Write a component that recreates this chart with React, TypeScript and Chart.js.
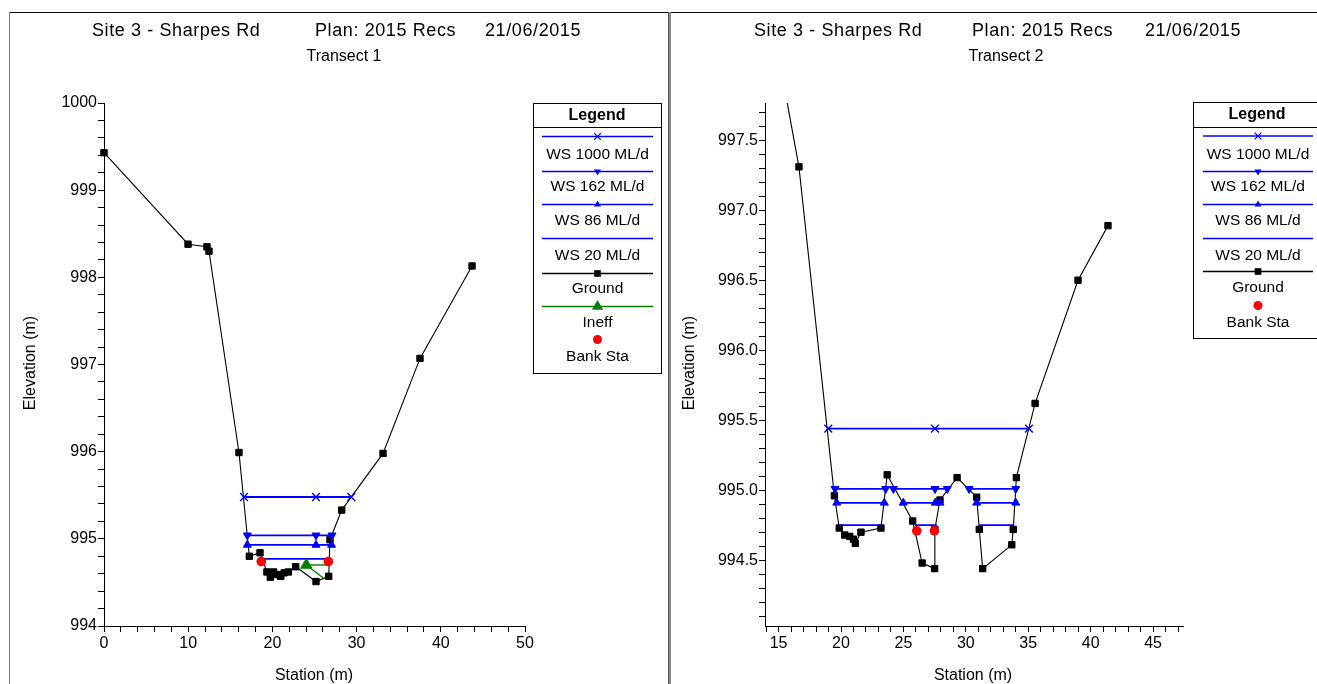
import React, { useEffect, useRef } from 'react';
import { Chart, registerables } from 'chart.js';

Chart.register(...registerables);

const FONT = "'Liberation Sans', Arial, Helvetica, sans-serif";

// ---------- Transect 1 ----------
const T1_GROUND_X = [0, 9.98, 12.23, 12.47, 16.03, 17.26, 18.53, 19.35, 19.75, 20.15, 20.6, 21.0, 21.4, 21.9, 22.77, 25.18, 26.69, 26.84, 28.23, 33.14, 37.53, 43.71];
const T1_GROUND_Y = [999.43, 998.38, 998.35, 998.3, 995.99, 994.8, 994.84, 994.62, 994.56, 994.62, 994.59, 994.57, 994.61, 994.62, 994.68, 994.51, 994.57, 994.99, 995.33, 995.98, 997.07, 998.13];
const T1_BANK_X = [18.68, 26.64];
const T1_BANK_Y = [994.74, 994.74];
const T1_WS1000_X = [16.63, 25.18, 29.37];
const T1_WS1000 = 995.48;
const T1_WS162_X = [17.02, 25.18, 27.08];
const T1_WS162 = 995.04;
const T1_WS86_X = [17.02, 25.18, 27.03];
const T1_WS86 = 994.93;
const T1_WS20_X = [18.68, 27.03];
const T1_WS20 = 994.77;
const T1_INEFF_X = [24.03, 26.84];
const T1_INEFF_Y = [994.7, 994.7];
const T1_HATCH_X = [24.03, 26.05];
const T1_HATCH_Y = [994.7, 994.55];
const T1_X_LABELS = [0, 10, 20, 30, 40, 50];
const T1_Y_LABELS = [994, 995, 996, 997, 998, 999, 1000];

// ---------- Transect 2 ----------
const T2_GROUND_X = [14.8, 16.63, 19.47, 19.86, 20.3, 20.7, 21.0, 21.15, 21.6, 23.2, 23.7, 25.74, 26.5, 27.5, 27.52, 27.93, 29.3, 30.87, 31.08, 31.35, 33.68, 33.8, 34.05, 35.55, 38.99, 41.39];
const T2_GROUND_Y = [998.2, 997.31, 994.96, 994.73, 994.68, 994.67, 994.65, 994.62, 994.7, 994.73, 995.11, 994.78, 994.48, 994.44, 994.72, 994.93, 995.09, 994.95, 994.72, 994.44, 994.61, 994.72, 995.09, 995.62, 996.5, 996.89];
const T2_BANK_X = [26.07, 27.48];
const T2_BANK_Y = [994.71, 994.71];
const T2_WS1000_X: (number | null)[] = [18.98, 27.53, 35.06];
const T2_WS1000 = 995.44;
const T2_WS162_X: (number | null)[] = [19.52, 23.58, null, 24.2, 27.53, 28.52, null, 30.26, 34.0];
const T2_WS162 = 995.01;
const T2_WS86_X: (number | null)[] = [19.66, 23.47, null, 24.99, 27.55, 27.93, null, 30.87, 34.0];
const T2_WS86 = 994.91;
const T2_WS20_X: (number | null)[] = [19.86, 23.2, null, 25.93, 27.67, null, 31.08, 33.8];
const T2_WS20 = 994.75;
const T2_X_LABELS = [15, 20, 25, 30, 35, 40, 45];
const T2_Y_LABELS = [994.5, 995.0, 995.5, 996.0, 996.5, 997.0, 997.5];

const TITLE_PARTS = ['Site 3 - Sharpes Rd', 'Plan: 2015 Recs', '21/06/2015'];

function stepTicks(from: number, to: number, step: number) {
  const out: number[] = [];
  const n = Math.round((to - from) / step);
  for (let i = 0; i <= n; i++) out.push(Math.round((from + i * step) * 1000) / 1000);
  return out;
}

function xyPoints(xs: number[], ys: number[]) {
  return xs.map((x, i) => ({ x, y: ys[i] }));
}

function levelPoints(xs: (number | null)[], level: number) {
  const out: { x: number; y: number | null }[] = [];
  let last = 0;
  for (const x of xs) {
    if (x === null) out.push({ x: last, y: null });
    else {
      out.push({ x, y: level });
      last = x;
    }
  }
  return out;
}

const BLUE = '#0000ff';
const GREEN = '#008000';
const RED = '#ff0000';

function wsDataset(label: string, xs: (number | null)[], level: number, style: any, rotation: number, radius: number, clip: any) {
  return {
    label,
    data: levelPoints(xs, level),
    borderColor: BLUE,
    borderWidth: 1.8,
    pointStyle: style,
    pointRotation: rotation,
    pointRadius: radius,
    pointBackgroundColor: BLUE,
    pointBorderColor: BLUE,
    pointBorderWidth: style === 'crossRot' ? 1.4 : 1,
    spanGaps: false,
    tension: 0,
    clip,
  };
}

function groundDataset(xs: number[], ys: number[], clip: any) {
  return {
    label: 'Ground',
    data: xyPoints(xs, ys),
    borderColor: '#000',
    borderWidth: 1.1,
    pointStyle: 'rect',
    pointRadius: 4.5,
    pointBackgroundColor: '#000',
    pointBorderColor: '#000',
    pointBorderWidth: 1,
    tension: 0,
    clip,
  };
}

function bankDataset(xs: number[], ys: number[], clip: any) {
  return {
    label: 'Bank Sta',
    data: xyPoints(xs, ys),
    showLine: false,
    pointStyle: 'circle',
    pointRadius: 4.8,
    pointBackgroundColor: RED,
    pointBorderColor: RED,
    pointBorderWidth: 0,
    clip,
  };
}

const CLIP1 = { left: 10, top: 10, right: 10, bottom: 10 };
const CLIP2 = { left: 10, top: 0, right: 10, bottom: 10 };

type LegendItem = { label: string; color?: string; marker?: string; rot?: number; r?: number; line: boolean; lineY: number; textY: number };

interface Panel {
  ox: number;
  width: number;
  height: number;
  area: { left: number; top: number; right: number; bottom: number };
  xMin: number; xMax: number; xTicks: number[]; xLabels: number[]; xDec: number;
  yMin: number; yMax: number; yTicks: number[]; yLabels: number[]; yDec: number;
  datasets: any[];
  titleX: number[];
  subtitle: string;
  subtitleX: number;
  yTitleX: number;
  xTitleX: number;
  legend: { x: number; y: number; w: number; h: number; sepY: number; lx1: number; lx2: number; items: LegendItem[] };
}

const PANEL1: Panel = {
  ox: 0,
  width: 668,
  height: 684,
  area: { left: 104, top: 103, right: 525, bottom: 626 },
  xMin: 0, xMax: 50, xTicks: stepTicks(0, 50, 2), xLabels: T1_X_LABELS, xDec: 0,
  yMin: 994, yMax: 1000, yTicks: stepTicks(994, 1000, 0.2), yLabels: T1_Y_LABELS, yDec: 0,
  datasets: [
    bankDataset(T1_BANK_X, T1_BANK_Y, CLIP1),
    {
      label: 'Ineff', data: xyPoints(T1_INEFF_X, T1_INEFF_Y), borderColor: GREEN, borderWidth: 1.4,
      pointStyle: 'triangle', pointRadius: [6.5, 0], pointBackgroundColor: GREEN, pointBorderColor: GREEN, pointBorderWidth: 1, clip: CLIP1,
    },
    { label: 'hatch', data: xyPoints(T1_HATCH_X, T1_HATCH_Y), borderColor: GREEN, borderWidth: 1.4, pointRadius: 0, clip: CLIP1 },
    wsDataset('WS 20 ML/d', T1_WS20_X, T1_WS20, 'circle', 0, 0, CLIP1),
    wsDataset('WS 86 ML/d', T1_WS86_X, T1_WS86, 'triangle', 0, 4.6, CLIP1),
    wsDataset('WS 162 ML/d', T1_WS162_X, T1_WS162, 'triangle', 180, 4.6, CLIP1),
    wsDataset('WS 1000 ML/d', T1_WS1000_X, T1_WS1000, 'crossRot', 0, 5.5, CLIP1),
    groundDataset(T1_GROUND_X, T1_GROUND_Y, CLIP1),
  ],
  titleX: [92, 315, 485],
  subtitle: 'Transect 1',
  subtitleX: 344,
  yTitleX: 31,
  xTitleX: 314,
  legend: {
    x: 533, y: 103, w: 128, h: 270, sepY: 127, lx1: 542, lx2: 653,
    items: [
      { label: 'WS 1000 ML/d', color: BLUE, marker: 'crossRot', r: 4, line: true, lineY: 136.5, textY: 155 },
      { label: 'WS 162 ML/d', color: BLUE, marker: 'triangle', rot: 180, r: 4, line: true, lineY: 171.5, textY: 187 },
      { label: 'WS 86 ML/d', color: BLUE, marker: 'triangle', r: 4, line: true, lineY: 204.5, textY: 221 },
      { label: 'WS 20 ML/d', color: BLUE, line: true, lineY: 238.5, textY: 256 },
      { label: 'Ground', color: '#000', marker: 'rect', r: 4, line: true, lineY: 273.5, textY: 288.5 },
      { label: 'Ineff', color: GREEN, marker: 'triangle', r: 6.5, line: true, lineY: 306.5, textY: 323 },
      { label: 'Bank Sta', color: RED, marker: 'circle', r: 4.5, line: false, lineY: 339.5, textY: 357 },
    ],
  },
};

const PANEL2: Panel = {
  ox: 670,
  width: 647,
  height: 684,
  area: { left: 95, top: 103, right: 513, bottom: 626 },
  xMin: 13.91, xMax: 47.4, xTicks: stepTicks(14, 47, 1), xLabels: T2_X_LABELS, xDec: 0,
  yMin: 994.03, yMax: 997.766, yTicks: stepTicks(994.1, 997.7, 0.1), yLabels: T2_Y_LABELS, yDec: 1,
  datasets: [
    bankDataset(T2_BANK_X, T2_BANK_Y, CLIP2),
    wsDataset('WS 20 ML/d', T2_WS20_X, T2_WS20, 'circle', 0, 0, CLIP2),
    wsDataset('WS 86 ML/d', T2_WS86_X, T2_WS86, 'triangle', 0, 4.6, CLIP2),
    wsDataset('WS 162 ML/d', T2_WS162_X, T2_WS162, 'triangle', 180, 4.6, CLIP2),
    wsDataset('WS 1000 ML/d', T2_WS1000_X, T2_WS1000, 'crossRot', 0, 5.5, CLIP2),
    groundDataset(T2_GROUND_X, T2_GROUND_Y, CLIP2),
  ],
  titleX: [754, 972, 1145],
  subtitle: 'Transect 2',
  subtitleX: 1006,
  yTitleX: 690,
  xTitleX: 973,
  legend: {
    x: 1193, y: 102, w: 130, h: 236, sepY: 127, lx1: 1203, lx2: 1313,
    items: [
      { label: 'WS 1000 ML/d', color: BLUE, marker: 'crossRot', r: 4, line: true, lineY: 136, textY: 155 },
      { label: 'WS 162 ML/d', color: BLUE, marker: 'triangle', rot: 180, r: 4, line: true, lineY: 171.5, textY: 187 },
      { label: 'WS 86 ML/d', color: BLUE, marker: 'triangle', r: 4, line: true, lineY: 204.5, textY: 221 },
      { label: 'WS 20 ML/d', color: BLUE, line: true, lineY: 238.5, textY: 256 },
      { label: 'Ground', color: '#000', marker: 'rect', r: 4, line: true, lineY: 271.5, textY: 288 },
      { label: 'Bank Sta', color: RED, marker: 'circle', r: 4.5, line: false, lineY: 305.5, textY: 323 },
    ],
  },
};

function drawMarker(ctx: CanvasRenderingContext2D, style: string, x: number, y: number, r: number, color: string, rot = 0) {
  ctx.save();
  ctx.fillStyle = color;
  ctx.strokeStyle = color;
  ctx.lineWidth = 1.3;
  ctx.beginPath();
  if (style === 'crossRot') {
    const d = r * Math.SQRT1_2 * 1.2;
    ctx.moveTo(x - d, y - d); ctx.lineTo(x + d, y + d);
    ctx.moveTo(x - d, y + d); ctx.lineTo(x + d, y - d);
    ctx.stroke();
  } else if (style === 'triangle') {
    let a = (rot * Math.PI) / 180;
    ctx.moveTo(x + Math.sin(a) * r, y - Math.cos(a) * r);
    a += (2 * Math.PI) / 3;
    ctx.lineTo(x + Math.sin(a) * r, y - Math.cos(a) * r);
    a += (2 * Math.PI) / 3;
    ctx.lineTo(x + Math.sin(a) * r, y - Math.cos(a) * r);
    ctx.closePath();
    ctx.fill();
  } else if (style === 'rect') {
    const s = r * Math.SQRT1_2 + 0.5;
    ctx.rect(x - s, y - s, 2 * s, 2 * s);
    ctx.fill();
  } else if (style === 'circle') {
    ctx.arc(x, y, r, 0, Math.PI * 2);
    ctx.fill();
  }
  ctx.restore();
}

function drawDeco(ctx: CanvasRenderingContext2D, p: Panel) {
  ctx.save();
  ctx.translate(-p.ox, 0);
  ctx.fillStyle = '#000';
  ctx.textBaseline = 'middle';
  // titles
  ctx.font = `18px ${FONT}`;
  ctx.textAlign = 'left';
  (ctx as any).letterSpacing = '0.6px';
  TITLE_PARTS.forEach((t, i) => ctx.fillText(t, p.titleX[i], 31));
  (ctx as any).letterSpacing = '0px';
  ctx.font = `16px ${FONT}`;
  ctx.textAlign = 'center';
  ctx.fillText(p.subtitle, p.subtitleX, 57);
  // axis titles
  ctx.fillText('Station (m)', p.xTitleX, 676);
  ctx.save();
  ctx.translate(p.yTitleX, 363);
  ctx.rotate(-Math.PI / 2);
  ctx.fillText('Elevation (m)', 0, 0);
  ctx.restore();
  // legend
  const L = p.legend;
  ctx.fillStyle = '#fff';
  ctx.fillRect(L.x, L.y, L.w, L.h);
  ctx.strokeStyle = '#000';
  ctx.lineWidth = 1;
  ctx.strokeRect(L.x + 0.5, L.y + 0.5, L.w, L.h);
  ctx.beginPath();
  ctx.moveTo(L.x, L.sepY + 0.5);
  ctx.lineTo(L.x + L.w, L.sepY + 0.5);
  ctx.stroke();
  const cx = (L.lx1 + L.lx2) / 2;
  ctx.fillStyle = '#000';
  ctx.font = `bold 16px ${FONT}`;
  ctx.fillText('Legend', L.x + L.w / 2 - (p.ox ? 1 : 0), L.y + 12.5);
  ctx.font = `15.5px ${FONT}`;
  for (const it of L.items) {
    if (it.line) {
      ctx.strokeStyle = it.color || '#000';
      ctx.lineWidth = 1.3;
      ctx.beginPath();
      ctx.moveTo(L.lx1, it.lineY);
      ctx.lineTo(L.lx2, it.lineY);
      ctx.stroke();
    }
    if (it.marker) drawMarker(ctx, it.marker, cx, it.lineY, it.r || 4, it.color || '#000', it.rot || 0);
    ctx.fillStyle = '#000';
    ctx.fillText(it.label, cx, it.textY);
  }
  ctx.restore();
}

function buildChart(canvas: HTMLCanvasElement, p: Panel) {
  const lab = (labels: number[], dec: number) => (v: any) => {
    const n = Number(v);
    return labels.some((l) => Math.abs(l - n) < 1e-6) ? n.toFixed(dec) : '';
  };
  const tickFont = { size: 16, family: FONT };
  return new Chart(canvas, {
    type: 'line',
    data: { datasets: p.datasets },
    options: {
      responsive: false,
      animation: false,
      devicePixelRatio: 1,
      events: [],
      layout: { padding: { left: 0, top: p.area.top, right: p.width - p.area.right, bottom: 0 } },
      plugins: { legend: { display: false }, tooltip: { enabled: false } },
      scales: {
        x: {
          type: 'linear',
          min: p.xMin,
          max: p.xMax,
          afterBuildTicks: (s: any) => { s.ticks = p.xTicks.map((v) => ({ value: v })); },
          afterFit: (s: any) => { s.height = p.height - p.area.bottom; },
          ticks: { autoSkip: false, maxRotation: 0, minRotation: 0, padding: 2, color: '#000', font: tickFont, callback: lab(p.xLabels, p.xDec) },
          grid: { drawOnChartArea: false, drawTicks: true, tickLength: 6, color: '#000', lineWidth: 1 },
          border: { display: true, color: '#000', width: 1 },
        },
        y: {
          type: 'linear',
          min: p.yMin,
          max: p.yMax,
          afterBuildTicks: (s: any) => { s.ticks = p.yTicks.map((v) => ({ value: v })); },
          afterFit: (s: any) => { s.width = p.area.left; },
          ticks: { autoSkip: false, padding: 1, color: '#000', font: tickFont, callback: lab(p.yLabels, p.yDec) },
          grid: { drawOnChartArea: false, drawTicks: true, tickLength: 6, color: '#000', lineWidth: 1 },
          border: { display: true, color: '#000', width: 1 },
        },
      },
    } as any,
    plugins: [{ id: 'deco', afterDraw: (c: any) => drawDeco(c.ctx, p) }],
  } as any);
}

export default function App() {
  const c1 = useRef<HTMLCanvasElement>(null);
  const c2 = useRef<HTMLCanvasElement>(null);
  useEffect(() => {
    const a = buildChart(c1.current!, PANEL1);
    const b = buildChart(c2.current!, PANEL2);
    return () => {
      a.destroy();
      b.destroy();
    };
  }, []);
  return (
    <div style={{ position: 'absolute', left: 0, top: 0, width: 1317, height: 684, overflow: 'hidden', background: '#fff' }}>
      <canvas ref={c1} width={668} height={684} style={{ position: 'absolute', left: 0, top: 0 }} />
      <canvas ref={c2} width={647} height={684} style={{ position: 'absolute', left: 670, top: 0 }} />
      <div style={{ position: 'absolute', left: 9, top: 12, width: 1308, height: 1, background: '#000' }} />
      <div style={{ position: 'absolute', left: 9, top: 12, width: 1, height: 672, background: '#7a7a7a' }} />
      <div style={{ position: 'absolute', left: 668, top: 12, width: 3, height: 672, background: '#8a8a8a', borderLeft: '1px solid #555', boxSizing: 'border-box' }} />
    </div>
  );
}
